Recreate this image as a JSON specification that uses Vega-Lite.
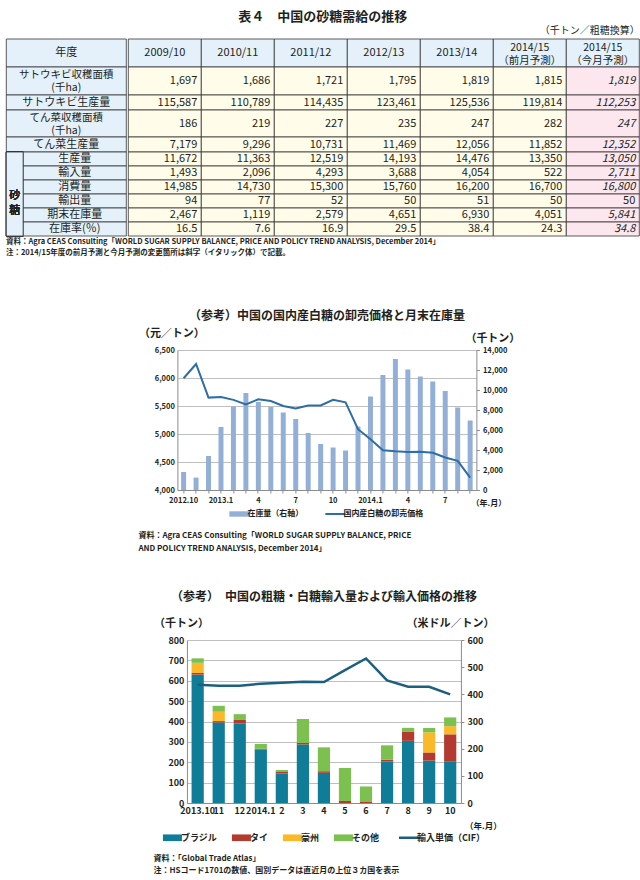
{
"$schema": "https://vega.github.io/schema/vega-lite/v6.json",
"padding": {"left": 5, "top": 10, "right": 0, "bottom": 0},
"title": {"text": "表４　中国の砂糖需給の推移", "fontSize": 13, "anchor": "middle", "offset": 2},
"resolve": {"scale": {"color": "independent"}, "legend": {"color": "independent"}},
"datasets": {
"items": [
{"項目": "年度"},
{"項目": "サトウキビ収穫面積\n(千ha)"},
{"項目": "サトウキビ生産量"},
{"項目": "てん菜収穫面積\n(千ha)"},
{"項目": "てん菜生産量"},
{"項目": "生産量", "区分": "砂糖"},
{"項目": "輸入量", "区分": "砂糖"},
{"項目": "消費量", "区分": "砂糖"},
{"項目": "輸出量", "区分": "砂糖"},
{"項目": "期末在庫量", "区分": "砂糖"},
{"項目": "在庫率(％)", "区分": "砂糖"}
],
"cells": [
{"項目": "年度", "年度": "2009/10"},
{"項目": "年度", "年度": "2010/11"},
{"項目": "年度", "年度": "2011/12"},
{"項目": "年度", "年度": "2012/13"},
{"項目": "年度", "年度": "2013/14"},
{"項目": "年度", "年度": "2014/15\n（前月予測）"},
{"項目": "年度", "年度": "2014/15\n（今月予測）"},
{"項目": "サトウキビ収穫面積\n(千ha)", "年度": "2009/10", "値": 1697},
{"項目": "サトウキビ収穫面積\n(千ha)", "年度": "2010/11", "値": 1686},
{"項目": "サトウキビ収穫面積\n(千ha)", "年度": "2011/12", "値": 1721},
{"項目": "サトウキビ収穫面積\n(千ha)", "年度": "2012/13", "値": 1795},
{"項目": "サトウキビ収穫面積\n(千ha)", "年度": "2013/14", "値": 1819},
{"項目": "サトウキビ収穫面積\n(千ha)", "年度": "2014/15\n（前月予測）", "値": 1815},
{"項目": "サトウキビ収穫面積\n(千ha)", "年度": "2014/15\n（今月予測）", "値": 1819},
{"項目": "サトウキビ生産量", "年度": "2009/10", "値": 115587},
{"項目": "サトウキビ生産量", "年度": "2010/11", "値": 110789},
{"項目": "サトウキビ生産量", "年度": "2011/12", "値": 114435},
{"項目": "サトウキビ生産量", "年度": "2012/13", "値": 123461},
{"項目": "サトウキビ生産量", "年度": "2013/14", "値": 125536},
{"項目": "サトウキビ生産量", "年度": "2014/15\n（前月予測）", "値": 119814},
{"項目": "サトウキビ生産量", "年度": "2014/15\n（今月予測）", "値": 112253},
{"項目": "てん菜収穫面積\n(千ha)", "年度": "2009/10", "値": 186},
{"項目": "てん菜収穫面積\n(千ha)", "年度": "2010/11", "値": 219},
{"項目": "てん菜収穫面積\n(千ha)", "年度": "2011/12", "値": 227},
{"項目": "てん菜収穫面積\n(千ha)", "年度": "2012/13", "値": 235},
{"項目": "てん菜収穫面積\n(千ha)", "年度": "2013/14", "値": 247},
{"項目": "てん菜収穫面積\n(千ha)", "年度": "2014/15\n（前月予測）", "値": 282},
{"項目": "てん菜収穫面積\n(千ha)", "年度": "2014/15\n（今月予測）", "値": 247},
{"項目": "てん菜生産量", "年度": "2009/10", "値": 7179},
{"項目": "てん菜生産量", "年度": "2010/11", "値": 9296},
{"項目": "てん菜生産量", "年度": "2011/12", "値": 10731},
{"項目": "てん菜生産量", "年度": "2012/13", "値": 11469},
{"項目": "てん菜生産量", "年度": "2013/14", "値": 12056},
{"項目": "てん菜生産量", "年度": "2014/15\n（前月予測）", "値": 11852},
{"項目": "てん菜生産量", "年度": "2014/15\n（今月予測）", "値": 12352},
{"項目": "生産量", "年度": "2009/10", "値": 11672},
{"項目": "生産量", "年度": "2010/11", "値": 11363},
{"項目": "生産量", "年度": "2011/12", "値": 12519},
{"項目": "生産量", "年度": "2012/13", "値": 14193},
{"項目": "生産量", "年度": "2013/14", "値": 14476},
{"項目": "生産量", "年度": "2014/15\n（前月予測）", "値": 13350},
{"項目": "生産量", "年度": "2014/15\n（今月予測）", "値": 13050},
{"項目": "輸入量", "年度": "2009/10", "値": 1493},
{"項目": "輸入量", "年度": "2010/11", "値": 2096},
{"項目": "輸入量", "年度": "2011/12", "値": 4293},
{"項目": "輸入量", "年度": "2012/13", "値": 3688},
{"項目": "輸入量", "年度": "2013/14", "値": 4054},
{"項目": "輸入量", "年度": "2014/15\n（前月予測）", "値": 522},
{"項目": "輸入量", "年度": "2014/15\n（今月予測）", "値": 2711},
{"項目": "消費量", "年度": "2009/10", "値": 14985},
{"項目": "消費量", "年度": "2010/11", "値": 14730},
{"項目": "消費量", "年度": "2011/12", "値": 15300},
{"項目": "消費量", "年度": "2012/13", "値": 15760},
{"項目": "消費量", "年度": "2013/14", "値": 16200},
{"項目": "消費量", "年度": "2014/15\n（前月予測）", "値": 16700},
{"項目": "消費量", "年度": "2014/15\n（今月予測）", "値": 16800},
{"項目": "輸出量", "年度": "2009/10", "値": 94},
{"項目": "輸出量", "年度": "2010/11", "値": 77},
{"項目": "輸出量", "年度": "2011/12", "値": 52},
{"項目": "輸出量", "年度": "2012/13", "値": 50},
{"項目": "輸出量", "年度": "2013/14", "値": 51},
{"項目": "輸出量", "年度": "2014/15\n（前月予測）", "値": 50},
{"項目": "輸出量", "年度": "2014/15\n（今月予測）", "値": 50},
{"項目": "期末在庫量", "年度": "2009/10", "値": 2467},
{"項目": "期末在庫量", "年度": "2010/11", "値": 1119},
{"項目": "期末在庫量", "年度": "2011/12", "値": 2579},
{"項目": "期末在庫量", "年度": "2012/13", "値": 4651},
{"項目": "期末在庫量", "年度": "2013/14", "値": 6930},
{"項目": "期末在庫量", "年度": "2014/15\n（前月予測）", "値": 4051},
{"項目": "期末在庫量", "年度": "2014/15\n（今月予測）", "値": 5841},
{"項目": "在庫率(％)", "年度": "2009/10", "値": 16.5},
{"項目": "在庫率(％)", "年度": "2010/11", "値": 7.6},
{"項目": "在庫率(％)", "年度": "2011/12", "値": 16.9},
{"項目": "在庫率(％)", "年度": "2012/13", "値": 29.5},
{"項目": "在庫率(％)", "年度": "2013/14", "値": 38.4},
{"項目": "在庫率(％)", "年度": "2014/15\n（前月予測）", "値": 24.3},
{"項目": "在庫率(％)", "年度": "2014/15\n（今月予測）", "値": 34.8}
],
"stock": [
{"月": "2012.10", "在庫量": 1800, "価格": 5995},
{"月": "2012.11", "在庫量": 1240, "価格": 6250},
{"月": "2012.12", "在庫量": 3400, "価格": 5650},
{"月": "2013.1", "在庫量": 6300, "価格": 5660},
{"月": "2013.2", "在庫量": 8350, "価格": 5610},
{"月": "2013.3", "在庫量": 9700, "価格": 5530},
{"月": "2013.4", "在庫量": 8800, "価格": 5620},
{"月": "2013.5", "在庫量": 8300, "価格": 5590},
{"月": "2013.6", "在庫量": 7750, "価格": 5500},
{"月": "2013.7", "在庫量": 7100, "価格": 5455},
{"月": "2013.8", "在庫量": 5700, "価格": 5510},
{"月": "2013.9", "在庫量": 4600, "価格": 5510},
{"月": "2013.10", "在庫量": 4250, "価格": 5610},
{"月": "2013.11", "在庫量": 3950, "価格": 5565},
{"月": "2013.12", "在庫量": 6350, "価格": 5085},
{"月": "2014.1", "在庫量": 9350, "価格": 4905},
{"月": "2014.2", "在庫量": 11500, "価格": 4710},
{"月": "2014.3", "在庫量": 13100, "価格": 4690},
{"月": "2014.4", "在庫量": 12050, "価格": 4680},
{"月": "2014.5", "在庫量": 11350, "価格": 4685},
{"月": "2014.6", "在庫量": 10850, "価格": 4665},
{"月": "2014.7", "在庫量": 9900, "価格": 4580},
{"月": "2014.8", "在庫量": 8250, "価格": 4520},
{"月": "2014.9", "在庫量": 6950, "価格": 4220}
],
"imports": [
{"月": "2013.10", "国": "ブラジル", "数量": 630},
{"月": "2013.10", "国": "タイ", "数量": 8},
{"月": "2013.10", "国": "豪州", "数量": 50},
{"月": "2013.10", "国": "その他", "数量": 22},
{"月": "2013.11", "国": "ブラジル", "数量": 395},
{"月": "2013.11", "国": "タイ", "数量": 7},
{"月": "2013.11", "国": "豪州", "数量": 46},
{"月": "2013.11", "国": "その他", "数量": 29},
{"月": "2013.12", "国": "ブラジル", "数量": 390},
{"月": "2013.12", "国": "タイ", "数量": 20},
{"月": "2013.12", "国": "その他", "数量": 26},
{"月": "2014.1", "国": "ブラジル", "数量": 262},
{"月": "2014.1", "国": "タイ", "数量": 4},
{"月": "2014.1", "国": "その他", "数量": 24},
{"月": "2014.2", "国": "ブラジル", "数量": 145},
{"月": "2014.2", "国": "タイ", "数量": 7},
{"月": "2014.2", "国": "その他", "数量": 10},
{"月": "2014.3", "国": "ブラジル", "数量": 287},
{"月": "2014.3", "国": "タイ", "数量": 7},
{"月": "2014.3", "国": "その他", "数量": 118},
{"月": "2014.4", "国": "ブラジル", "数量": 148},
{"月": "2014.4", "国": "タイ", "数量": 8},
{"月": "2014.4", "国": "その他", "数量": 117},
{"月": "2014.5", "国": "タイ", "数量": 10},
{"月": "2014.5", "国": "その他", "数量": 162},
{"月": "2014.6", "国": "タイ", "数量": 5},
{"月": "2014.6", "国": "その他", "数量": 76},
{"月": "2014.7", "国": "ブラジル", "数量": 203},
{"月": "2014.7", "国": "タイ", "数量": 10},
{"月": "2014.7", "国": "その他", "数量": 70},
{"月": "2014.8", "国": "ブラジル", "数量": 305},
{"月": "2014.8", "国": "タイ", "数量": 46},
{"月": "2014.8", "国": "その他", "数量": 18},
{"月": "2014.9", "国": "ブラジル", "数量": 208},
{"月": "2014.9", "国": "タイ", "数量": 40},
{"月": "2014.9", "国": "豪州", "数量": 99},
{"月": "2014.9", "国": "その他", "数量": 21},
{"月": "2014.10", "国": "ブラジル", "数量": 205},
{"月": "2014.10", "国": "タイ", "数量": 132},
{"月": "2014.10", "国": "豪州", "数量": 40},
{"月": "2014.10", "国": "その他", "数量": 43}
],
"prices": [
{"月": "2013.10", "単価": 435},
{"月": "2013.11", "単価": 432},
{"月": "2013.12", "単価": 432},
{"月": "2014.1", "単価": 439},
{"月": "2014.2", "単価": 443},
{"月": "2014.3", "単価": 446},
{"月": "2014.4", "単価": 445},
{"月": "2014.5", "単価": 489},
{"月": "2014.6", "単価": 532},
{"月": "2014.7", "単価": 451},
{"月": "2014.8", "単価": 428},
{"月": "2014.9", "単価": 428},
{"月": "2014.10", "単価": 400}
]
},
"vconcat": [
{
"title": {"text": ["資料：Agra CEAS Consulting「WORLD SUGAR SUPPLY BALANCE, PRICE AND POLICY TREND ANALYSIS, December 2014」", "　注：2014/15年度の前月予測と今月予測の変更箇所は斜字（イタリック体）で記載。"], "orient": "bottom", "anchor": "start", "fontSize": 7.5, "fontWeight": "bold", "lineHeight": 11, "offset": 2},
"vconcat": [
{
"title": {"text": "（千トン／粗糖換算）", "anchor": "end", "fontSize": 10, "fontWeight": "normal", "offset": 3},
"spacing": 0,
"hconcat": [
{"spacing": 0, "bounds": "flush", "vconcat": [
{"width": 120, "height": 56, "data": {"name": "items"}, "transform": [{"filter": {"field": "項目", "oneOf": ["年度", "サトウキビ収穫面積\n(千ha)"]}}],
"encoding": {"y": {"field": "項目", "type": "nominal", "scale": {"domain": ["年度", "サトウキビ収穫面積\n(千ha)"], "paddingInner": 0, "paddingOuter": 0}, "axis": null}},
"layer": [
{"mark": {"type": "rect", "fill": "#e4f1fb", "stroke": "#333333", "strokeWidth": 0.8}},
{"transform": [{"filter": "datum['項目'] === '年度'"}], "mark": {"type": "text", "fontSize": 11}, "encoding": {"text": {"field": "項目"}}},
{"transform": [{"filter": "datum['項目'] !== '年度'"}], "mark": {"type": "text", "lineBreak": "\n", "fontSize": 10.5, "lineHeight": 13, "dy": -6}, "encoding": {"text": {"field": "項目"}}}
]},
{"width": 120, "height": 15, "data": {"name": "items"}, "transform": [{"filter": {"field": "項目", "oneOf": ["サトウキビ生産量"]}}],
"encoding": {"y": {"field": "項目", "type": "nominal", "scale": {"domain": ["サトウキビ生産量"], "paddingInner": 0, "paddingOuter": 0}, "axis": null}},
"layer": [
{"mark": {"type": "rect", "fill": "#e4f1fb", "stroke": "#333333", "strokeWidth": 0.8}},
{"mark": {"type": "text", "fontSize": 11}, "encoding": {"text": {"field": "項目"}}}
]},
{"width": 120, "height": 27, "data": {"name": "items"}, "transform": [{"filter": {"field": "項目", "oneOf": ["てん菜収穫面積\n(千ha)"]}}],
"encoding": {"y": {"field": "項目", "type": "nominal", "scale": {"domain": ["てん菜収穫面積\n(千ha)"], "paddingInner": 0, "paddingOuter": 0}, "axis": null}},
"layer": [
{"mark": {"type": "rect", "fill": "#e4f1fb", "stroke": "#333333", "strokeWidth": 0.8}},
{"mark": {"type": "text", "lineBreak": "\n", "fontSize": 10.5, "lineHeight": 13, "dy": -6}, "encoding": {"text": {"field": "項目"}}}
]},
{"width": 120, "height": 15, "data": {"name": "items"}, "transform": [{"filter": {"field": "項目", "oneOf": ["てん菜生産量"]}}],
"encoding": {"y": {"field": "項目", "type": "nominal", "scale": {"domain": ["てん菜生産量"], "paddingInner": 0, "paddingOuter": 0}, "axis": null}},
"layer": [
{"mark": {"type": "rect", "fill": "#e4f1fb", "stroke": "#333333", "strokeWidth": 0.8}},
{"mark": {"type": "text", "fontSize": 11}, "encoding": {"text": {"field": "項目"}}}
]},
{"spacing": 0, "bounds": "flush", "hconcat": [
{"width": 17, "height": 84, "data": {"name": "items"}, "transform": [{"filter": "datum['区分'] === '砂糖'"}],
"layer": [
{"mark": {"type": "rect", "fill": "#e4f1fb", "stroke": "#333333", "strokeWidth": 0.8}, "encoding": {}},
{"mark": {"type": "text", "fontSize": 11, "lineHeight": 15, "dy": 2}, "encoding": {"text": {"value": ["砂", "糖"]}}}
]},
{"width": 103, "height": 84, "data": {"name": "items"}, "transform": [{"filter": {"field": "項目", "oneOf": ["生産量", "輸入量", "消費量", "輸出量", "期末在庫量", "在庫率(％)"]}}],
"encoding": {"y": {"field": "項目", "type": "nominal", "scale": {"domain": ["生産量", "輸入量", "消費量", "輸出量", "期末在庫量", "在庫率(％)"], "paddingInner": 0, "paddingOuter": 0}, "axis": null}},
"layer": [
{"mark": {"type": "rect", "fill": "#e4f1fb", "stroke": "#333333", "strokeWidth": 0.8}},
{"mark": {"type": "text", "fontSize": 11}, "encoding": {"text": {"field": "項目"}}}
]}
]}
]},
{"spacing": 0, "bounds": "flush", "vconcat": [
{"width": 511, "height": 56, "data": {"name": "cells"}, "transform": [{"filter": {"field": "項目", "oneOf": ["年度", "サトウキビ収穫面積\n(千ha)"]}}],
"encoding": {
"x": {"field": "年度", "type": "nominal", "scale": {"domain": ["2009/10", "2010/11", "2011/12", "2012/13", "2013/14", "2014/15\n（前月予測）", "2014/15\n（今月予測）"], "paddingInner": 0, "paddingOuter": 0}, "axis": null},
"y": {"field": "項目", "type": "nominal", "scale": {"domain": ["年度", "サトウキビ収穫面積\n(千ha)"], "paddingInner": 0, "paddingOuter": 0}, "axis": null}},
"layer": [
{"mark": {"type": "rect", "stroke": "#333333", "strokeWidth": 0.8}, "encoding": {"fill": {"condition": [{"test": "datum['項目'] === '年度'", "value": "#e4f1fb"}, {"test": "indexof(datum['年度'], '今月') >= 0", "value": "#fde7ef"}], "value": "#fffcea"}}},
{"transform": [{"filter": "datum['項目'] === '年度' && indexof(datum['年度'], '予測') < 0"}], "mark": {"type": "text", "fontSize": 11}, "encoding": {"text": {"field": "年度"}}},
{"transform": [{"filter": "datum['項目'] === '年度' && indexof(datum['年度'], '予測') >= 0"}], "mark": {"type": "text", "lineBreak": "\n", "fontSize": 10.5, "lineHeight": 13, "dy": -5}, "encoding": {"text": {"field": "年度"}}},
{"transform": [{"filter": "isValid(datum['値']) && !(indexof(datum['年度'], '今月') >= 0 && datum['項目'] !== '輸出量')"}], "mark": {"type": "text", "align": "right", "dx": -4, "fontSize": 11}, "encoding": {"x": {"field": "年度", "type": "nominal", "bandPosition": 1}, "text": {"field": "値", "format": ",.1~f"}}},
{"transform": [{"filter": "isValid(datum['値']) && indexof(datum['年度'], '今月') >= 0 && datum['項目'] !== '輸出量'"}], "mark": {"type": "text", "align": "right", "dx": -4, "fontSize": 11, "fontStyle": "italic"}, "encoding": {"x": {"field": "年度", "type": "nominal", "bandPosition": 1}, "text": {"field": "値", "format": ",.1~f"}}}
]},
{"width": 511, "height": 15, "data": {"name": "cells"}, "transform": [{"filter": {"field": "項目", "oneOf": ["サトウキビ生産量"]}}],
"encoding": {
"x": {"field": "年度", "type": "nominal", "scale": {"domain": ["2009/10", "2010/11", "2011/12", "2012/13", "2013/14", "2014/15\n（前月予測）", "2014/15\n（今月予測）"], "paddingInner": 0, "paddingOuter": 0}, "axis": null},
"y": {"field": "項目", "type": "nominal", "scale": {"domain": ["サトウキビ生産量"], "paddingInner": 0, "paddingOuter": 0}, "axis": null}},
"layer": [
{"mark": {"type": "rect", "stroke": "#333333", "strokeWidth": 0.8}, "encoding": {"fill": {"condition": [{"test": "indexof(datum['年度'], '今月') >= 0", "value": "#fde7ef"}], "value": "#fffcea"}}},
{"transform": [{"filter": "isValid(datum['値']) && !(indexof(datum['年度'], '今月') >= 0 && datum['項目'] !== '輸出量')"}], "mark": {"type": "text", "align": "right", "dx": -4, "fontSize": 11}, "encoding": {"x": {"field": "年度", "type": "nominal", "bandPosition": 1}, "text": {"field": "値", "format": ",.1~f"}}},
{"transform": [{"filter": "isValid(datum['値']) && indexof(datum['年度'], '今月') >= 0 && datum['項目'] !== '輸出量'"}], "mark": {"type": "text", "align": "right", "dx": -4, "fontSize": 11, "fontStyle": "italic"}, "encoding": {"x": {"field": "年度", "type": "nominal", "bandPosition": 1}, "text": {"field": "値", "format": ",.1~f"}}}
]},
{"width": 511, "height": 27, "data": {"name": "cells"}, "transform": [{"filter": {"field": "項目", "oneOf": ["てん菜収穫面積\n(千ha)"]}}],
"encoding": {
"x": {"field": "年度", "type": "nominal", "scale": {"domain": ["2009/10", "2010/11", "2011/12", "2012/13", "2013/14", "2014/15\n（前月予測）", "2014/15\n（今月予測）"], "paddingInner": 0, "paddingOuter": 0}, "axis": null},
"y": {"field": "項目", "type": "nominal", "scale": {"domain": ["てん菜収穫面積\n(千ha)"], "paddingInner": 0, "paddingOuter": 0}, "axis": null}},
"layer": [
{"mark": {"type": "rect", "stroke": "#333333", "strokeWidth": 0.8}, "encoding": {"fill": {"condition": [{"test": "indexof(datum['年度'], '今月') >= 0", "value": "#fde7ef"}], "value": "#fffcea"}}},
{"transform": [{"filter": "isValid(datum['値']) && !(indexof(datum['年度'], '今月') >= 0 && datum['項目'] !== '輸出量')"}], "mark": {"type": "text", "align": "right", "dx": -4, "fontSize": 11}, "encoding": {"x": {"field": "年度", "type": "nominal", "bandPosition": 1}, "text": {"field": "値", "format": ",.1~f"}}},
{"transform": [{"filter": "isValid(datum['値']) && indexof(datum['年度'], '今月') >= 0 && datum['項目'] !== '輸出量'"}], "mark": {"type": "text", "align": "right", "dx": -4, "fontSize": 11, "fontStyle": "italic"}, "encoding": {"x": {"field": "年度", "type": "nominal", "bandPosition": 1}, "text": {"field": "値", "format": ",.1~f"}}}
]},
{"width": 511, "height": 15, "data": {"name": "cells"}, "transform": [{"filter": {"field": "項目", "oneOf": ["てん菜生産量"]}}],
"encoding": {
"x": {"field": "年度", "type": "nominal", "scale": {"domain": ["2009/10", "2010/11", "2011/12", "2012/13", "2013/14", "2014/15\n（前月予測）", "2014/15\n（今月予測）"], "paddingInner": 0, "paddingOuter": 0}, "axis": null},
"y": {"field": "項目", "type": "nominal", "scale": {"domain": ["てん菜生産量"], "paddingInner": 0, "paddingOuter": 0}, "axis": null}},
"layer": [
{"mark": {"type": "rect", "stroke": "#333333", "strokeWidth": 0.8}, "encoding": {"fill": {"condition": [{"test": "indexof(datum['年度'], '今月') >= 0", "value": "#fde7ef"}], "value": "#fffcea"}}},
{"transform": [{"filter": "isValid(datum['値']) && !(indexof(datum['年度'], '今月') >= 0 && datum['項目'] !== '輸出量')"}], "mark": {"type": "text", "align": "right", "dx": -4, "fontSize": 11}, "encoding": {"x": {"field": "年度", "type": "nominal", "bandPosition": 1}, "text": {"field": "値", "format": ",.1~f"}}},
{"transform": [{"filter": "isValid(datum['値']) && indexof(datum['年度'], '今月') >= 0 && datum['項目'] !== '輸出量'"}], "mark": {"type": "text", "align": "right", "dx": -4, "fontSize": 11, "fontStyle": "italic"}, "encoding": {"x": {"field": "年度", "type": "nominal", "bandPosition": 1}, "text": {"field": "値", "format": ",.1~f"}}}
]},
{"width": 511, "height": 84, "data": {"name": "cells"}, "transform": [{"filter": {"field": "項目", "oneOf": ["生産量", "輸入量", "消費量", "輸出量", "期末在庫量", "在庫率(％)"]}}],
"encoding": {
"x": {"field": "年度", "type": "nominal", "scale": {"domain": ["2009/10", "2010/11", "2011/12", "2012/13", "2013/14", "2014/15\n（前月予測）", "2014/15\n（今月予測）"], "paddingInner": 0, "paddingOuter": 0}, "axis": null},
"y": {"field": "項目", "type": "nominal", "scale": {"domain": ["生産量", "輸入量", "消費量", "輸出量", "期末在庫量", "在庫率(％)"], "paddingInner": 0, "paddingOuter": 0}, "axis": null}},
"layer": [
{"mark": {"type": "rect", "stroke": "#333333", "strokeWidth": 0.8}, "encoding": {"fill": {"condition": [{"test": "indexof(datum['年度'], '今月') >= 0", "value": "#fde7ef"}], "value": "#fffcea"}}},
{"transform": [{"filter": "isValid(datum['値']) && !(indexof(datum['年度'], '今月') >= 0 && datum['項目'] !== '輸出量')"}], "mark": {"type": "text", "align": "right", "dx": -4, "fontSize": 11}, "encoding": {"x": {"field": "年度", "type": "nominal", "bandPosition": 1}, "text": {"field": "値", "format": ",.1~f"}}},
{"transform": [{"filter": "isValid(datum['値']) && indexof(datum['年度'], '今月') >= 0 && datum['項目'] !== '輸出量'"}], "mark": {"type": "text", "align": "right", "dx": -4, "fontSize": 11, "fontStyle": "italic"}, "encoding": {"x": {"field": "年度", "type": "nominal", "bandPosition": 1}, "text": {"field": "値", "format": ",.1~f"}}}
]}
]}
]
}
]
},
{
"spacing": 38,
"center": true,
"resolve": {"scale": {"color": "independent"}, "legend": {"color": "independent"}},
"vconcat": [
{"spacing": 0, "resolve": {"scale": {"color": "independent"}, "legend": {"color": "independent"}}, "hconcat": [
{"width": 12, "height": 1, "data": {"values": [{}]}, "mark": {"type": "rect", "fill": "transparent"}, "encoding": {}},
{
"title": {"text": ["資料：Agra CEAS Consulting「WORLD SUGAR SUPPLY BALANCE, PRICE", "　　　AND POLICY TREND ANALYSIS, December 2014」"], "orient": "bottom", "anchor": "start", "fontSize": 8, "fontWeight": "bold", "lineHeight": 13, "offset": 14},
"vconcat": [
{
"title": {"text": "（参考）中国の国内産白糖の卸売価格と月末在庫量", "fontSize": 12, "offset": 4},
"width": 299, "height": 140,
"data": {"name": "stock"},
"encoding": {"x": {"field": "月", "type": "nominal", "sort": null, "scale": {"paddingInner": 0.6, "paddingOuter": 0.3},
"axis": {"title": "（年.月）", "labelAngle": 0, "labelOverlap": false, "labelExpr": "datum.value === '2012.10' || datum.value === '2013.1' || datum.value === '2014.1' ? datum.value : (indexof(['4','7','10'], split(datum.value, '.')[1]) >= 0 ? split(datum.value, '.')[1] : '')", "labelFontSize": 7.5, "tickSize": 3, "titleX": 311, "titleY": 13, "titleAlign": "center", "titleBaseline": "middle", "titleFontSize": 8}}},
"layer": [
{"mark": {"type": "bar"}, "encoding": {
"y": {"field": "在庫量", "type": "quantitative", "scale": {"domain": [0, 14000], "nice": false}, "axis": {"orient": "right", "title": "（千トン）", "titleAngle": 0, "titleX": 16, "titleY": -12, "titleAlign": "center", "titleBaseline": "middle", "values": [0, 2000, 4000, 6000, 8000, 10000, 12000, 14000], "format": ",d", "grid": false, "tickSize": 3, "labelFontSize": 7.5}},
"color": {"datum": "在庫量（右軸）", "type": "nominal", "scale": {"domain": ["在庫量（右軸）", "国内産白糖の卸売価格"], "range": ["#92afd7", "#2e6ea6"]},
"legend": {"orient": "bottom", "direction": "horizontal", "title": null, "offset": 3, "symbolSize": 400, "labelFontSize": 8, "columnPadding": 18,
"encode": {"symbols": {"update": {"shape": {"signal": "datum.value === '国内産白糖の卸売価格' ? 'M-1,0H1' : 'M-1,-0.27H1V0.27H-1Z'"}, "stroke": {"signal": "datum.value === '国内産白糖の卸売価格' ? '#2e6ea6' : 'transparent'"}, "strokeWidth": {"signal": "datum.value === '国内産白糖の卸売価格' ? 2 : 0"}}}}}}
}},
{"mark": {"type": "line", "strokeWidth": 2}, "encoding": {
"y": {"field": "価格", "type": "quantitative", "scale": {"domain": [4000, 6500], "nice": false, "zero": false}, "axis": {"orient": "left", "title": "（元／トン）", "titleAngle": 0, "titleX": -6, "titleY": -17, "titleAlign": "center", "titleBaseline": "middle", "values": [4000, 4500, 5000, 5500, 6000, 6500], "format": ",d", "grid": true, "tickSize": 0, "labelFontSize": 7.5}},
"color": {"datum": "国内産白糖の卸売価格", "type": "nominal"}
}}
],
"resolve": {"scale": {"y": "independent"}}
}
]
}
]},
{"spacing": 0, "resolve": {"scale": {"color": "independent"}, "legend": {"color": "independent"}}, "hconcat": [
{"width": 8, "height": 1, "data": {"values": [{}]}, "mark": {"type": "rect", "fill": "transparent"}, "encoding": {}},
{
"title": {"text": ["資料：「Global Trade Atlas」", "注：HSコード1701の数値、国別データは直近月の上位３カ国を表示"], "orient": "bottom", "anchor": "start", "fontSize": 8, "fontWeight": "bold", "lineHeight": 12, "offset": 12},
"vconcat": [
{
"title": {"text": "（参考）　中国の粗糖・白糖輸入量および輸入価格の推移", "fontSize": 12, "offset": 13},
"width": 274, "height": 163,
"encoding": {"x": {"field": "月", "type": "nominal", "scale": {"domain": ["2013.10", "2013.11", "2013.12", "2014.1", "2014.2", "2014.3", "2014.4", "2014.5", "2014.6", "2014.7", "2014.8", "2014.9", "2014.10"], "paddingInner": 0.42, "paddingOuter": 0.22},
"axis": {"title": "（年.月）", "labelAngle": 0, "labelOverlap": false, "labelExpr": "datum.value === '2013.10' || datum.value === '2014.1' ? datum.value : split(datum.value, '.')[1]", "labelFontSize": 9, "tickSize": 0, "titleX": 296, "titleY": 22, "titleAlign": "center", "titleBaseline": "middle", "titleFontSize": 8.5}}},
"layer": [
{"data": {"name": "imports"}, "transform": [{"window": [{"op": "row_number", "as": "順"}], "groupby": ["月"]}], "mark": {"type": "bar"}, "encoding": {
"y": {"field": "数量", "type": "quantitative", "stack": "zero", "scale": {"domain": [0, 800], "nice": false}, "axis": {"orient": "left", "title": "（千トン）", "titleAngle": 0, "titleX": -6, "titleY": -17, "titleAlign": "center", "titleBaseline": "middle", "values": [0, 100, 200, 300, 400, 500, 600, 700, 800], "grid": true, "tickSize": 0, "labelFontSize": 9}},
"order": {"field": "順", "type": "quantitative"},
"color": {"field": "国", "type": "nominal", "scale": {"domain": ["ブラジル", "タイ", "豪州", "その他", "輸入単価（CIF）"], "range": ["#0f7d98", "#b23a2e", "#fbb929", "#7cc04f", "#1d5f7e"]},
"legend": {"orient": "bottom", "direction": "horizontal", "title": null, "offset": 3, "symbolSize": 361, "labelFontSize": 9, "columnPadding": 14,
"encode": {"symbols": {"update": {"shape": {"signal": "datum.value === '輸入単価（CIF）' ? 'M-1,0H1' : 'M-1,-0.35H1V0.35H-1Z'"}, "stroke": {"signal": "datum.value === '輸入単価（CIF）' ? '#1d5f7e' : 'transparent'"}, "strokeWidth": {"signal": "datum.value === '輸入単価（CIF）' ? 2.5 : 0"}}}}}}
}},
{"data": {"name": "prices"}, "mark": {"type": "line", "strokeWidth": 2.5}, "encoding": {
"y": {"field": "単価", "type": "quantitative", "scale": {"domain": [0, 600], "nice": false}, "axis": {"orient": "right", "title": "（米ドル／トン）", "titleAngle": 0, "titleX": -11, "titleY": -17, "titleAlign": "center", "titleBaseline": "middle", "values": [0, 100, 200, 300, 400, 500, 600], "grid": false, "tickSize": 3, "labelFontSize": 9}},
"color": {"datum": "輸入単価（CIF）", "type": "nominal"}
}}
],
"resolve": {"scale": {"y": "independent"}}
}
]
}
]}
]
}
],
"spacing": 53,
"center": true,
"config": {
"font": "Noto Sans CJK JP",
"view": {"stroke": null},
"title": {"fontSize": 12, "fontWeight": "bold", "color": "#231f20"},
"axis": {"labelFontWeight": "bold", "labelColor": "#231f20", "titleFontWeight": "bold", "titleColor": "#231f20", "domainColor": "#8c8c8c", "tickColor": "#8c8c8c", "gridColor": "#bfbfbf", "labelPadding": 3},
"legend": {"labelFontWeight": "bold", "labelColor": "#231f20", "layout": {"bottom": {"anchor": "middle"}}},
"text": {"color": "#231f20"}
}
}
